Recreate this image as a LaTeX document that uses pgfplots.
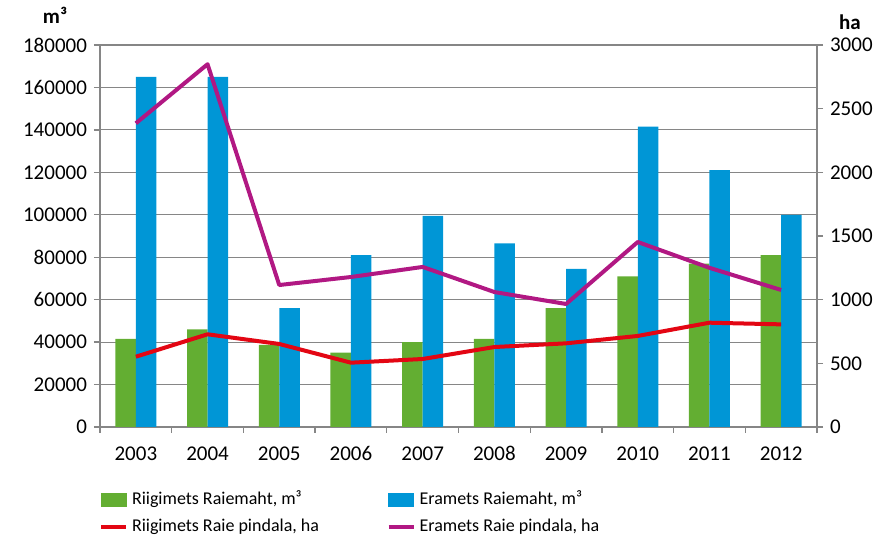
\documentclass[border=0pt]{standalone}
\usepackage{fontspec}
\setmainfont{Carlito}
\usepackage{pgfplots}
\pgfplotsset{compat=1.18}
\definecolor{cgreen}{RGB}{99,174,50}
\definecolor{cblue}{RGB}{0,150,214}
\definecolor{cred}{RGB}{227,6,19}
\definecolor{cpurple}{RGB}{177,24,131}
\definecolor{axisgray}{RGB}{134,134,134}

\pgfplotsset{
  common/.style={
    scale only axis, width=358.5pt, height=191pt,
    xmin=-0.5, xmax=9.5, ymin=0, clip=false,
    axis line style={draw=axisgray, line width=0.65pt},
    tick align=outside, major tick length=3pt,
    tick style={axisgray, line width=0.65pt},
    ticklabel style={font=\fontsize{10.5}{12}\selectfont, black},
    /pgf/number format/assume math mode=true,
    /pgf/number format/fixed,
    /pgf/number format/1000 sep={},
    scaled y ticks=false,
  }
}

\begin{document}
\begin{tikzpicture}
\begin{axis}[
    common,
    ymax=180000,
    axis y line*=left, axis x line*=bottom,
    ytick={0,20000,...,180000},
    ymajorgrids, grid style={draw=axisgray, line width=0.6pt},
    xtick={-0.5,0.5,...,9.5},
    xticklabels={2003,2004,2005,2006,2007,2008,2009,2010,2011,2012,{}},
    xticklabel style={xshift=17.925pt, yshift=-2.5pt, text height=1.6ex, text depth=0.2ex},
    ybar, bar width=10.25pt,
]
% Riigimets Raiemaht, m3
\addplot[fill=cgreen, draw=none, bar shift=-5.125pt] coordinates {
  (0,41500)(1,46000)(2,38700)(3,35000)(4,40000)
  (5,41500)(6,56000)(7,71000)(8,77000)(9,81000)};
% Eramets Raiemaht, m3
\addplot[fill=cblue, draw=none, bar shift=5.125pt] coordinates {
  (0,165000)(1,165000)(2,56000)(3,81000)(4,99500)
  (5,86500)(6,74500)(7,141500)(8,121000)(9,100000)};
\node[font=\fontsize{10.5}{12}\selectfont\bfseries] at (rel axis cs:0,1) [xshift=-22.5pt, yshift=15pt] {m³};
\end{axis}

\begin{axis}[
    common,
    ymax=3000,
    axis y line*=right, axis x line=none,
    ytick={0,500,...,3000},
    legend columns=2,
    legend cell align=left,
    legend style={draw=none, fill=none, inner sep=0pt, outer sep=0pt,
      at={(0,0)}, anchor=north west, xshift=-0.5pt, yshift=-30pt,
      font=\fontsize{9}{10.5}\selectfont, row sep=1.5pt,
      /tikz/every even column/.append style={column sep=31.75pt},
      /tikz/every odd column/.append style={column sep=0pt}},
]
\addlegendimage{legend image code/.code={\fill[cgreen] (0pt,-3.25pt) rectangle (12.5pt,3.25pt);}}
\addlegendentry{Riigimets Raiemaht, m³}
\addlegendimage{legend image code/.code={\fill[cblue] (0pt,-3.25pt) rectangle (12.5pt,3.25pt);}}
\addlegendentry{Eramets Raiemaht, m³}
% Riigimets Raie pindala, ha
\addplot[cred, line width=2pt, line join=round, mark=none,
  legend image code/.code={\draw[cred, line width=2pt] (0pt,0pt) -- (12.5pt,0pt);}] coordinates {
  (0,552)(1,728)(2,652)(3,505)(4,534)
  (5,628)(6,657)(7,715)(8,819)(9,806)};
\addlegendentry{Riigimets Raie pindala, ha}
% Eramets Raie pindala, ha
\addplot[cpurple, line width=2pt, line join=round, mark=none,
  legend image code/.code={\draw[cpurple, line width=2pt] (0pt,0pt) -- (12.5pt,0pt);}] coordinates {
  (0,2385)(1,2849)(2,1115)(3,1178)(4,1257)
  (5,1060)(6,966)(7,1453)(8,1250)(9,1076)};
\addlegendentry{Eramets Raie pindala, ha}
\node[font=\fontsize{10.5}{12}\selectfont\bfseries] at (rel axis cs:1,1) [xshift=16.5pt, yshift=11.5pt] {ha};
\end{axis}
\pgfresetboundingbox
\path (-50pt,-56pt) rectangle (389.5pt,213.5pt);
\end{tikzpicture}
\end{document}
